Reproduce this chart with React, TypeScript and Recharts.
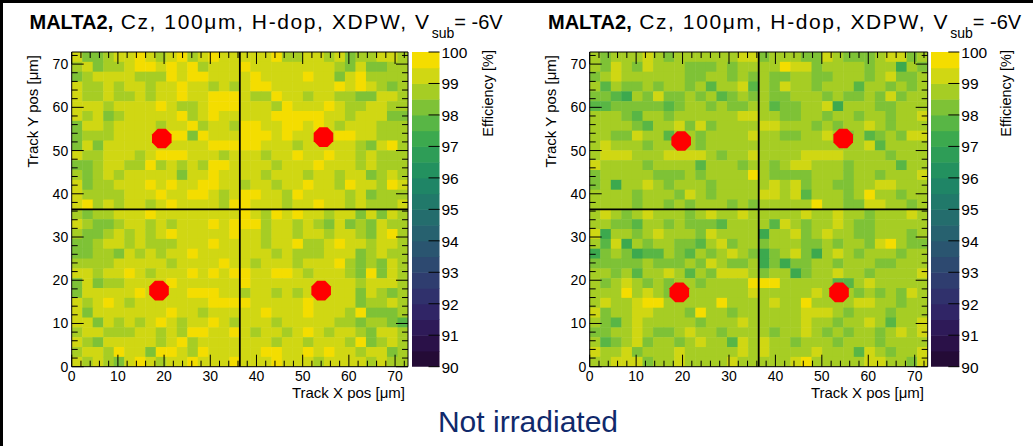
import React from 'react';
import { ScatterChart, Scatter, XAxis, YAxis, ReferenceLine } from 'recharts';

const FONT = '"Liberation Sans", Arial, Helvetica, sans-serif';

// colour classes -> efficiency [%] (middle of each 0.5 % band)
const LEVELS: Record<string, number> = { Y: 99.75, L: 99.25, G: 98.75, M: 98.25, D: 97.75, E: 97.25 };

// left map, rows from top (y = 72.8) to bottom (y = 0), 32 bins each way
const leftRows = [
  'LMMGLLYLGLYGLYLL' + 'LLLYGGLLGLMGGLLG',
  'GLMGGLYYLYLYGLLL' + 'YLLLLLLLLGMLMMGG',
  'MGLLLLGGGYLYYLLL' + 'LYLLLLYLLMLYGGGG',
  'LGGLGLLGLLYLLGLG' + 'LYYLLLLLLYLYLGMG',
  'LGGLGGLGLLYLLYYY' + 'LGGYLLGLLGGMMLLG',
  'LLLGLLLLYLGGLYYY' + 'LLLGYLLLYLGGLLGG',
  'LGLMGLLLLLYGLYLL' + 'LLLYYYYYLLGLLLMM',
  'MLLGLLLLGLLYGLLG' + 'YYLLYYLYLGLLLGGG',
  'MGGGLLLLLYYMYLLL' + 'YYYLYLLLLYYLLGGG',
  'MLMLLLLLLLLLLYYY' + 'YYLLLGLLLLLGMLYG',
  'LGGLLLGLYYYLLLGL' + 'LLGLLYLLYLLGLGGG',
  'MMGLLGGYGLGLGYYL' + 'LLLGLLLYLLLGLGGG',
  'GMGLGLLLLLMLLYLL' + 'LLGLLLGLLGLLMGLG',
  'LMGGLLLYLYLLYYLL' + 'GLLGLLYLLGYLLGYL',
  'LGGGGLLLYLLYYLGL' + 'YYLLGYLLLLGLMGGG',
  'LYGLGLLGLYLLLLGY' + 'YLLLGLLYLLGLGGGL',
  'GMGGLLLYLLLLLLLL' + 'YLGYLYLLGLLMLMLG',
  'LGMMGLLGLGLLLYLY' + 'YYGLLGLGMLMGMLGG',
  'GMMGLGLGLYLLLLLY' + 'LLGLLGLLGLLGMLYG',
  'MMGLLGLGGGLLLYLL' + 'LLGLLYGGLYLLGLLG',
  'MMGGMLGLGLLYLLLL' + 'LLLGLGGGLLLMGLGG',
  'GGGGLLLLLGLLLLYL' + 'LGLLLGLLLYGMGMLG',
  'LLGLLYLGLLLYLYLY' + 'YLLYYLGLLLGMYMLG',
  'MLMGGLLLLYLLLLLL' + 'YLLLLLLLLLLGLLLG',
  'MLLLLLYLLLLYYYLL' + 'GLLGLGLLLLLMLGMG',
  'LGLYLGLLLLLLLYYY' + 'YLLLLLYLLLLMGGLG',
  'LMLLLLLLLYLLGLLL' + 'LLYLLLYLLLGYMMMG',
  'LLMLGLGLYLGLLYLG' + 'LLLGLLLLLGGMGGMD',
  'GLLGGGLLGLGYYLLY' + 'LGLLGLYLGLLGMLLG',
  'LGMLLLLLGLYGLLLL' + 'LLLGLLGLLLGYMGLG',
  'GLLGYLLMYYLGYLLL' + 'LLYYLLYLYLLGLLMG',
  'LGLGMLYLGLLYLLLY' + 'LLLYLLLGLLLLGLGG',
];

// right map, same layout
const rightRows = [
  'GMGGGLGMGGGGGGLL' + 'MGGGMMLGMMMGLLMG',
  'GMLGMLGGGMMMGMGG' + 'GGYLLMGGGGMGGEGM',
  'MGLGGGGGGMMGGMGM' + 'GMMGGMMGGGMGLMMG',
  'GDGMMGMGGMGDGGLD' + 'GMLGGMGGGDGGMGMG',
  'MMDEGMLMMGMGDMGM' + 'GMMGGGMGMMGMLMGG',
  'DDMMMMMDMGGMGMMG' + 'GDMMGGLEGGGMMGGG',
  'GGGMDGGMGGGGGGLL' + 'GGMMGGMGGMGGMGGL',
  'GGGGMDGGLMLMGGGG' + 'LLGGGMGMGGLGMGGG',
  'GGMMLGGDGGMGGGGL' + 'GGMMGGLGMGDMGMLL',
  'GLGGGMGGGGMGGGGG' + 'GGGGGGGGGGLDGGGG',
  'GLLLGGGLLLLGMGGL' + 'GGGGLLLLGGGGMGGG',
  'LGGGGMGGGGDGGGMG' + 'GMGLLGGGMGGGGDGG',
  'MGGGGGMMMGMGGGGY' + 'GMMMMGGGMGGMGGGL',
  'MGEGGLGMGGGMGGGG' + 'GLGLMGGMMGGLLGGG',
  'GGGGMGGGMLGMGGGG' + 'LLGLDGGGMGYGGMGG',
  'GGGGMGGMGMGGGMGM' + 'GGGGGYGGMMLLGGMG',
  'GLGMGLGGGMGLGGLG' + 'GGGGLGGLGGMGGGLG',
  'GGMMDGGMGMMMDGGG' + 'GDLGMGGLGMMGGGGG',
  'LEGGMGLGGGMLGGGG' + 'EGGLMGLGGMMGGGMG',
  'GDLEGMGGMMDGLMGG' + 'MGGGMMGMGGMLYGMM',
  'EMGMEDDGMDGMGLGM' + 'EMGLMEGLGMGGGMGG',
  'MMMMMGMMMGMLGMMG' + 'EMEMMGGMGGGMMGGG',
  'GGMGDGGLGDGMLLLG' + 'MGGEMGGLGGMGGGGL',
  'GMGLGMGMGGMGGGGY' + 'YYGGGGGDDGLGGGGG',
  'GGGYGLGMGGGGGGGL' + 'GGGGGLGGGMGMGMLG',
  'GLGGLYYGGGGGYGGG' + 'GLGGYGGGGLLGGMGG',
  'LMGGLLGGGMYGGMGG' + 'GGGGLLLGMGGGMGGG',
  'GMDGLGGGGGMGGGLG' + 'GGGGLGGMGGLGDGGL',
  'MMGGLGMMGLGGMGGG' + 'GMGGLGMGMGGMGLGL',
  'GDMGLMGGMGLGGDLG' + 'LGGMGGGMGGGMGGGG',
  'LGGLMGGGLGGGGGLG' + 'LGGGGLGGGDLGMGGL',
  'GGLLLMGGLGGGGLGG' + 'GGGLYGGGGGLLGGML',
];

// red markers (pixel centres)
const leftMarkers = [
  { x: 19.5, y: 52.8 },
  { x: 54.5, y: 53.1 },
  { x: 18.9, y: 17.6 },
  { x: 54.0, y: 17.6 },
];
const rightMarkers = [
  { x: 19.7, y: 52.2 },
  { x: 54.6, y: 52.8 },
  { x: 19.3, y: 17.2 },
  { x: 53.7, y: 17.2 },
];

const posTicks = [0, 2, 4, 6, 8, 10, 12, 14, 16, 18, 20, 22, 24, 26, 28, 30, 32, 34, 36, 38, 40, 42, 44, 46, 48, 50, 52, 54, 56, 58, 60, 62, 64, 66, 68, 70, 72];
const cbTicks = [90, 91, 92, 93, 94, 95, 96, 97, 98, 99, 100];
const cbBands = [90, 90.5, 91, 91.5, 92, 92.5, 93, 93.5, 94, 94.5, 95, 95.5, 96, 96.5, 97, 97.5, 98, 98.5, 99, 99.5];
const PALETTE = [
  '#240b36', '#2a1148', '#2e1a58', '#302566', '#30316c', '#2f3d6f', '#2d4970', '#2a5570', '#27616f', '#246d6d',
  '#21796a', '#1f8566', '#23915f', '#2e9d57', '#3ca94e', '#58b645', '#7ec236', '#a6cd24', '#d0d713', '#f4dd00',
];

const SIZE = 72.8; // two pixels of 36.4 um
const PITCH = 36.4;
const NBINS = 32;
const BIN = SIZE / NBINS;

const colorOf = (v: number) => PALETTE[Math.max(0, Math.min(19, Math.floor((v - 90) / 0.5)))];

const PLOT_TOP = 52;
const PLOT_H = 314.7;
const CH = 400;
const YW = 40;
const XH = 30;

function Panel({ left, plotLeft, plotW, rows, markers }: any) {
  const W = 420;
  const data = rows.flatMap((row: string, r: number) =>
    row.split('').map((c, i) => ({ x: (i + 0.5) * BIN, y: SIZE - (r + 0.5) * BIN, eff: LEVELS[c] }))
  );
  const cw = plotW / NBINS;
  const chh = PLOT_H / NBINS;
  const txt = { fontFamily: FONT, fontSize: 14, fill: '#000' };
  const margin = { top: PLOT_TOP - 1, left: plotLeft - YW, right: W - plotLeft - plotW - 1, bottom: CH - PLOT_TOP - PLOT_H - XH };

  const cell = (p: any) => (
    <rect x={p.cx - cw / 2} y={p.cy - chh / 2} width={cw + 0.5} height={chh + 0.5} fill={colorOf(p.payload.eff)} />
  );
  const octagon = (p: any) => {
    const r = 10.6;
    const pts = [0, 1, 2, 3, 4, 5, 6, 7]
      .map((k) => {
        const a = ((22.5 + k * 45) * Math.PI) / 180;
        return `${p.cx + r * Math.cos(a)},${p.cy + r * Math.sin(a)}`;
      })
      .join(' ');
    return <polygon points={pts} fill="#ff0000" />;
  };
  const nothing = () => <g />;

  const bottomTick = (p: any) => {
    const v = p.payload.value;
    const major = v % 10 === 0;
    return (
      <g>
        <line x1={p.x} x2={p.x} y1={p.y} y2={p.y - (major ? 12 : 6)} stroke="#000" />
        {major && (
          <text x={p.x} y={p.y + 14.5} textAnchor="middle" {...txt}>
            {v}
          </text>
        )}
      </g>
    );
  };
  const topTick = (p: any) => {
    const major = p.payload.value % 10 === 0;
    return <line x1={p.x} x2={p.x} y1={p.y} y2={p.y + (major ? 12 : 6)} stroke="#000" />;
  };
  const leftTick = (p: any) => {
    const v = p.payload.value;
    const major = v % 10 === 0;
    return (
      <g>
        <line x1={p.x} x2={p.x + (major ? 12 : 6)} y1={p.y} y2={p.y} stroke="#000" />
        {major && (
          <text x={p.x - 3.5} y={p.y + 5} textAnchor="end" {...txt}>
            {v}
          </text>
        )}
      </g>
    );
  };
  const rightTick = (p: any) => {
    const major = p.payload.value % 10 === 0;
    return <line x1={p.x} x2={p.x - (major ? 12 : 6)} y1={p.y} y2={p.y} stroke="#000" />;
  };

  const axes = (show: boolean) => [
    <XAxis key="b" xAxisId={0} type="number" dataKey="x" domain={[0, SIZE]} ticks={posTicks} interval={0} allowDataOverflow
      height={XH} tickSize={0} tickMargin={0} tickLine={false} tick={show ? bottomTick : false} axisLine={show ? { stroke: '#000' } : false} />,
    <XAxis key="t" xAxisId="top" orientation="top" type="number" dataKey="x" domain={[0, SIZE]} ticks={posTicks} interval={0} allowDataOverflow
      height={1} tickSize={0} tickMargin={0} tickLine={false} tick={show ? topTick : false} axisLine={show ? { stroke: '#000' } : false} />,
    <YAxis key="l" yAxisId={0} type="number" dataKey="y" domain={[0, SIZE]} ticks={posTicks} interval={0} allowDataOverflow
      width={YW} tickSize={0} tickMargin={0} tickLine={false} tick={show ? leftTick : false} axisLine={show ? { stroke: '#000' } : false} />,
    <YAxis key="r" yAxisId="right" orientation="right" type="number" dataKey="y" domain={[0, SIZE]} ticks={posTicks} interval={0} allowDataOverflow
      width={1} tickSize={0} tickMargin={0} tickLine={false} tick={show ? rightTick : false} axisLine={show ? { stroke: '#000' } : false} />,
  ];

  return (
    <div style={{ position: 'absolute', left, top: 0, width: W, height: CH }}>
      {/* efficiency cells */}
      <div style={{ position: 'absolute', left: 0, top: 0 }}>
        <ScatterChart width={W} height={CH} margin={margin}>
          {axes(false)}
          <Scatter data={data} shape={cell} isAnimationActive={false} />
          <Scatter data={data.slice(0, 1)} xAxisId="top" yAxisId="right" shape={nothing} isAnimationActive={false} />
        </ScatterChart>
      </div>
      {/* frame, ticks, pixel boundaries and markers on top */}
      <div style={{ position: 'absolute', left: 0, top: 0 }}>
        <ScatterChart width={W} height={CH} margin={margin}>
          {axes(true)}
          <ReferenceLine x={PITCH} stroke="#000" strokeWidth={1.8} />
          <ReferenceLine y={PITCH} stroke="#000" strokeWidth={1.8} />
          <Scatter data={markers} shape={octagon} isAnimationActive={false} />
          <Scatter data={markers} xAxisId="top" yAxisId="right" shape={nothing} isAnimationActive={false} />
        </ScatterChart>
      </div>
    </div>
  );
}

function ColorBar({ left, barW }: any) {
  const W = 70;
  const RW = 34;
  const bandH = PLOT_H / cbBands.length;
  const data = cbBands.map((b, i) => ({ x: 0.5, y: b + 0.25, i }));
  const band = (p: any) => (
    <rect x={p.cx - barW / 2} y={p.cy - bandH / 2} width={barW} height={bandH + 0.5} fill={PALETTE[p.payload.i]} />
  );
  const tick = (p: any) => (
    <g>
      <line x1={p.x} x2={p.x - 11} y1={p.y} y2={p.y} stroke="#000" />
      <text x={p.x + 2} y={p.y + 6} textAnchor="start" fontFamily={FONT} fontSize={15.5} fill="#000">
        {p.payload.value}
      </text>
    </g>
  );
  return (
    <div style={{ position: 'absolute', left, top: 0 }}>
      <ScatterChart width={W} height={CH} margin={{ top: PLOT_TOP, left: 0, right: W - barW - RW, bottom: CH - PLOT_TOP - PLOT_H }}>
        <XAxis type="number" dataKey="x" domain={[0, 1]} hide />
        <YAxis orientation="right" type="number" dataKey="y" domain={[90, 100]} ticks={cbTicks} interval={0} allowDataOverflow
          width={RW} tickSize={0} tickMargin={0} tickLine={false} tick={tick} axisLine={false} />
        <Scatter data={data} shape={band} isAnimationActive={false} />
      </ScatterChart>
    </div>
  );
}

function Title({ x }: { x: number }) {
  return (
    <text x={x} y={29} fontFamily={FONT} fontSize={20} fill="#000">
      <tspan fontWeight="bold">MALTA2,</tspan>
      <tspan fontSize={21} letterSpacing={1.6}> Cz, 100μm, H-dop, XDPW, V</tspan>
      <tspan fontSize={14} dx={1} dy={9}>sub</tspan>
      <tspan dy={-9}>= -6V</tspan>
    </text>
  );
}

export default function App() {
  const lab = { fontFamily: FONT, fontSize: 15, fill: '#000' };
  return (
    <div style={{ position: 'absolute', left: 0, top: 0, width: 1033, height: 446, background: '#fff', overflow: 'hidden' }}>
      <Panel left={0} plotLeft={71.7} plotW={336.3} rows={leftRows} markers={leftMarkers} />
      <Panel left={517.6} plotLeft={71.7} plotW={338} rows={rightRows} markers={rightMarkers} />
      <ColorBar left={412} barW={27.5} />
      <ColorBar left={930.7} barW={28.3} />
      <svg width={1033} height={446} style={{ position: 'absolute', left: 0, top: 0, pointerEvents: 'none' }}>
        <line x1={0} x2={1033} y1={1.5} y2={1.5} stroke="#000" strokeWidth={3} />
        <line x1={1.5} x2={1.5} y1={0} y2={446} stroke="#000" strokeWidth={3} />
        <Title x={29.5} />
        <Title x={548} />
        <text transform="translate(38,55) rotate(-90)" textAnchor="end" {...lab}>Track Y pos [μm]</text>
        <text transform="translate(556,55) rotate(-90)" textAnchor="end" {...lab}>Track Y pos [μm]</text>
        <text x={405} y={398} textAnchor="end" {...lab}>Track X pos [μm]</text>
        <text x={924} y={398} textAnchor="end" {...lab}>Track X pos [μm]</text>
        <text transform="translate(493,50) rotate(-90)" textAnchor="end" {...lab} fontSize={14.5}>Efficiency [%]</text>
        <text transform="translate(1011,50) rotate(-90)" textAnchor="end" {...lab} fontSize={14.5}>Efficiency [%]</text>
        <text x={528} y={432} textAnchor="middle" fontFamily={FONT} fontSize={30} fill="#10296b">Not irradiated</text>
      </svg>
    </div>
  );
}
